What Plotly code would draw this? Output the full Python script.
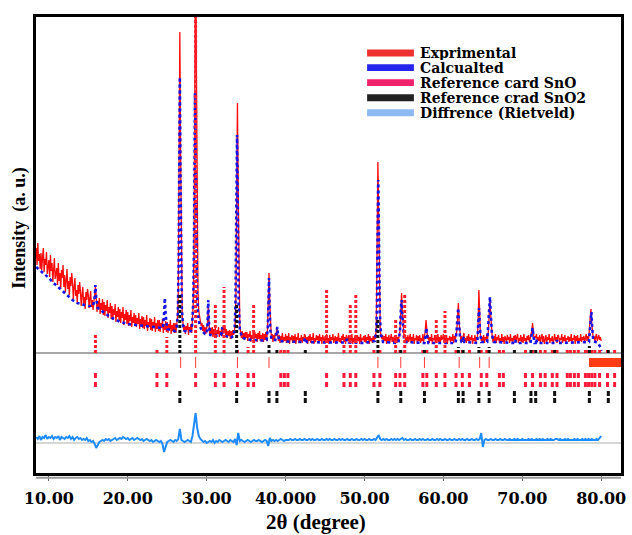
import numpy as np
import plotly.graph_objects as go

# ---------------- data (a.u. above the zero line) ----------------
# Experimental pattern: 2theta 8.4 .. 80.0 deg, step 0.1
exp_start, exp_step = 8.4, 0.1
exp_I = [
    105, 88, 110, 92, 99, 84,                    # 8.4-8.9
    100, 83, 96, 105, 81, 94, 88, 101, 79, 92,   # 9
    93, 76, 98, 82, 90, 71, 86, 95, 74, 84,      # 10
    85, 68, 90, 72, 80, 64, 83, 75, 88, 66,      # 11
    78, 61, 73, 84, 64, 72, 58, 76, 67, 80,      # 12
    70, 54, 66, 75, 57, 63, 50, 68, 59, 71,      # 13
    62, 47, 58, 66, 49, 56, 44, 61, 53, 64,      # 14
    58, 45, 55, 62, 46, 53, 43, 52, 60, 66,      # 15
    57, 41, 52, 44, 55, 39, 50, 43, 54, 38,      # 16
    51, 37, 48, 42, 53, 35, 46, 40, 50, 34,      # 17
    47, 33, 44, 38, 49, 31, 42, 36, 46, 32,      # 18
    44, 30, 41, 35, 46, 28, 39, 33, 43, 29,      # 19
    41, 27, 38, 32, 43, 26, 36, 30, 40, 27,      # 20
    38, 26, 35, 29, 40, 24, 34, 28, 37, 25,      # 21
    36, 24, 33, 27, 38, 22, 31, 26, 35, 23,      # 22
    34, 22, 31, 26, 36, 21, 30, 24, 33, 22,      # 23
    33, 21, 30, 25, 34, 20, 29, 23, 32, 21,      # 24
    31, 20, 29, 24, 33, 19, 28, 22, 30, 20,      # 25
    30, 20, 28, 36, 60, 150, 321, 200, 70, 38,   # 26
    30, 22, 28, 19, 27, 23, 30, 18, 26, 22,      # 27
    29, 20, 34, 50, 110, 260, 420, 280, 120, 60, # 28
    42, 35, 33, 27, 30, 22, 28, 20, 26, 19,      # 29
    25, 28, 45, 28, 17, 25, 19, 26, 16, 24,      # 30
    18, 25, 15, 23, 19, 26, 16, 22, 18, 25,      # 31
    17, 26, 20, 28, 18, 24, 15, 22, 17, 23,      # 32
    14, 22, 16, 23, 18, 21, 28, 55, 150, 250,    # 33
    160, 55, 28, 21, 15, 22, 14, 20, 13, 21,     # 34
    15, 21, 12, 19, 16, 22, 11, 18, 14, 20,      # 35
    13, 21, 15, 19, 11, 20, 14, 22, 12, 18,      # 36
    14, 20, 11, 19, 13, 21, 12, 22, 50, 80,      # 37
    50, 22, 14, 19, 11, 18, 13, 20, 17, 25,      # 38
    19, 12, 18, 10, 17, 13, 20, 11, 16, 12,      # 39
    19, 10, 17, 12, 20, 9, 16, 13, 18, 10,       # 40
    17, 11, 19, 9, 16, 13, 20, 10, 15, 12,       # 41
    18, 10, 16, 13, 19, 17, 11, 16, 9, 17,       # 42
    12, 19, 10, 16, 13, 20, 9, 15, 11, 18,       # 43
    13, 17, 10, 19, 12, 16, 9, 18, 14, 11,       # 44
    17, 10, 19, 12, 15, 9, 18, 11, 16, 13,       # 45
    19, 10, 14, 17, 9, 16, 12, 20, 11, 15,       # 46
    10, 17, 13, 19, 11, 16, 9, 18, 15, 12,       # 47
    18, 10, 16, 12, 19, 9, 15, 11, 17, 13,       # 48
    10, 18, 12, 16, 9, 19, 11, 15, 13, 17,       # 49
    11, 18, 10, 16, 13, 19, 9, 17, 12, 15,       # 50
    10, 17, 12, 18, 14, 28, 90, 191, 140, 50,    # 51
    22, 18, 14, 18, 10, 17, 12, 19, 9, 16,       # 52
    12, 18, 10, 15, 19, 11, 16, 9, 17, 13,       # 53
    18, 10, 16, 12, 17, 22, 40, 60, 42, 22,      # 54
    17, 19, 12, 16, 10, 18, 11, 15, 19, 10,      # 55
    16, 12, 19, 9, 15, 13, 18, 10, 17, 12,       # 56
    18, 10, 15, 12, 19, 11, 16, 22, 33, 22,      # 57
    14, 18, 10, 16, 12, 19, 9, 15, 13, 18,       # 58
    10, 17, 12, 19, 11, 16, 9, 18, 13, 15,       # 59
    19, 10, 16, 12, 18, 9, 15, 13, 17, 11,       # 60
    16, 12, 19, 10, 17, 13, 18, 22, 35, 50,      # 61
    30, 19, 13, 17, 11, 16, 20, 12, 15, 10,      # 62
    17, 12, 19, 10, 16, 13, 18, 9, 15, 12,       # 63
    18, 10, 16, 14, 30, 63, 32, 17, 12, 16,      # 64
    12, 18, 10, 16, 13, 19, 14, 22, 38, 55,      # 65
    38, 22, 15, 11, 17, 12, 19, 10, 16, 13,      # 66
    18, 10, 15, 12, 19, 11, 16, 9, 17, 14,       # 67
    11, 18, 13, 16, 10, 19, 12, 15, 9, 17,       # 68
    13, 18, 11, 16, 19, 10, 15, 12, 18, 11,      # 69
    16, 10, 19, 12, 15, 9, 17, 13, 18, 11,       # 70
    15, 19, 22, 30, 21, 13, 17, 15, 19, 11,      # 71
    16, 12, 18, 10, 15, 19, 11, 17, 9, 14,       # 72
    18, 11, 16, 13, 19, 10, 15, 12, 17, 9,       # 73
    15, 19, 12, 16, 10, 18, 17, 11, 15, 13,      # 74
    19, 10, 16, 12, 18, 9, 15, 13, 17, 11,       # 75
    16, 12, 19, 10, 15, 13, 18, 9, 17, 12,       # 76
    18, 10, 15, 12, 19, 11, 16, 13, 17, 10,      # 77
    15, 19, 12, 17, 14, 22, 32, 44, 30, 18,      # 78
    14, 17, 11, 16, 19, 12, 15, 18, 13, 16,      # 79
    12,                                          # 80.0
]

# Calculated (Rietveld) profile
calc_theta = [8.4, 9.0, 9.6, 10.0, 10.6, 11.0, 11.6, 12.0, 12.6, 13.0, 13.6, 14.0, 14.6, 15.0,
              15.6, 15.8, 15.9, 16.0, 16.2, 16.6, 17.0, 17.6, 18.0, 18.6, 19.0, 19.6, 20.0,
              21.0, 22.0, 23.0, 24.0, 24.45, 24.6, 24.7, 24.8, 25.0, 25.5, 26.0, 26.2, 26.35,
              26.45, 26.53, 26.6, 26.67, 26.75, 26.85, 27.0, 27.2, 27.6, 28.0, 28.15, 28.3,
              28.4, 28.47, 28.52, 28.6, 28.68, 28.78, 28.9, 29.1, 29.4, 29.8, 30.0, 30.1,
              30.2, 30.3, 30.45, 31.0, 31.8, 32.0, 32.2, 33.0, 33.4, 33.55, 33.65, 33.73,
              33.8, 33.85, 33.9, 33.97, 34.05, 34.2, 34.45, 35.0, 36.0, 37.0, 37.6, 37.75,
              37.85, 37.9, 37.95, 38.05, 38.2, 38.7, 38.85, 38.95, 39.05, 39.2, 40.0, 42.3,
              42.5, 42.7, 45.0, 47.6, 47.8, 48.0, 50.0, 51.3, 51.48, 51.58, 51.65, 51.7,
              51.74, 51.79, 51.86, 51.94, 52.1, 52.35, 54.3, 54.5, 54.62, 54.7, 54.78, 54.88,
              55.0, 55.2, 57.6, 57.75, 57.85, 57.95, 58.1, 61.55, 61.7, 61.8, 61.88, 61.97,
              62.1, 62.3, 62.45, 62.55, 62.65, 64.3, 64.42, 64.52, 64.62, 64.8, 65.55, 65.7,
              65.82, 65.9, 66.0, 66.15, 66.4, 69.0, 69.1, 69.2, 71.05, 71.2, 71.3, 71.4,
              71.55, 71.7, 71.78, 71.86, 74.3, 74.4, 74.5, 78.45, 78.6, 78.7, 78.76, 78.86,
              79.0, 79.6, 79.9, 80.0]
calc_I = [86, 82, 78, 75, 70, 67, 63, 60, 56, 53, 50, 49, 48, 47,
          47, 55, 68, 55, 45, 43, 40, 37, 35, 33, 31, 30, 29,
          28, 27, 26, 25, 25, 38, 55, 38, 24, 23, 22, 25, 40,
          90, 190, 276, 190, 90, 45, 28, 22, 21, 22, 28, 50,
          110, 200, 260, 200, 110, 60, 38, 28, 22, 19, 19, 28,
          53, 28, 18, 17, 18, 26, 18, 15, 17, 25, 50, 110,
          180, 218, 180, 110, 50, 24, 16, 13.5, 13, 12.5, 13, 25,
          55, 75, 55, 25, 14, 13, 20, 26, 18, 12, 11.5, 11,
          15, 11, 10.5, 10.5, 14, 10.5, 10, 12, 20, 45, 110, 160,
          173, 150, 90, 40, 18, 11, 10, 22, 45, 53, 40, 22,
          15, 11, 10, 17, 25, 17, 10, 10, 25, 42, 45, 30,
          17, 11, 11, 16, 11, 10, 26, 45, 26, 11, 11, 30,
          52, 56, 40, 18, 11, 10, 13, 10, 10, 18, 25, 18,
          10, 10, 14, 10, 10, 13, 10, 11, 25, 40, 41, 25,
          12, 10, 6, 2]

# Difference curve (exp - calc), 2theta 8.4 .. 80.0, step 0.2
diff_start, diff_step = 8.4, 0.2
diff_I = [
    5, 3, 6, 2, 5, 4, 7, 3, 5, 4,        # 8.4
    6, 3, 5, 4, 6, 2, 5, 4, 3, 5,        # 10.4
    4, 6, 3, 5, 2, 4, 5, 3, 4, 2,        # 12.4
    3, 2, 4, 1, 2, 0, 1, -2, -6, -3,     # 14.4
    0, 1, 2, 1, 3, 2, 3, 1, 2, 3,        # 16.4
    4, 2, 3, 4, 3, 5, 4, 3, 4, 2,        # 18.4
    3, 4, 2, 3, 4, 3, 2, 3, 1, 2,        # 20.4
    3, 2, 1, 2, 0, 1, 2, 1, 0, 1,        # 22.4
    -2, -10, -4, 0, 1, 2, 1, 0, 2, 1,    # 24.4
    3, 13, 2, 1, 0, 1, 2, 1, 0, 6,       # 26.4
    18, 29, 14, 6, 3, 1, 0, 1, -1, 0,    # 28.4
    1, 0, 2, -1, 1, 0, 2, 1, 0, 1,       # 30.4
    2, 1, 0, 2, 1, 0, 3, -3, 9, 1,       # 32.4
    2, 1, 0, 1, 2, 1, 0, 1, 2, 1,        # 34.4
    1, 2, 1, 0, 1, 2, 1, -4, 4, 1,       # 36.4
    2, 1, 2, 1, 2, 3, 2, 1, 2, 2,        # 38.4
    2, 3, 2, 2, 3, 2, 2, 3, 2, 2,        # 40.4
    3, 2, 2, 3, 2, 3, 2, 2, 3, 2,        # 42.4
    2, 3, 2, 2, 3, 2, 3, 2, 2, 3,        # 44.4
    2, 2, 3, 2, 3, 2, 2, 3, 2, 2,        # 46.4
    3, 2, 2, 3, 2, 2, 3, 2, 3, 2,        # 48.4
    2, 3, 2, 2, 3, 2, 4, 7, 3, 2,        # 50.4
    3, 2, 3, 2, 2, 3, 2, 3, 2, 3,        # 52.4
    2, 3, 4, 2, 3, 2, 2, 3, 2, 2,        # 54.4
    3, 2, 2, 3, 2, 3, 2, 2, 3, 2,        # 56.4
    2, 3, 2, 2, 3, 2, 3, 2, 2, 3,        # 58.4
    2, 2, 3, 2, 2, 3, 2, 2, 3, 2,        # 60.4
    3, 2, 2, 3, 2, 2, 3, 2, 2, 3,        # 62.4
    2, 3, 9, -5, 2, 3, 2, 2, 3, 2,       # 64.4
    2, 3, 2, 2, 3, 2, 2, 3, 2, 2,        # 66.4
    3, 2, 2, 3, 2, 3, 2, 2, 3, 2,        # 68.4
    2, 2, 3, 2, 3, 2, 2, 3, 2, 3,        # 70.4
    2, 3, 2, 2, 3, 2, 3, 2, 2, 3,        # 72.4
    3, 2, 3, 2, 2, 3, 2, 3, 2, 2,        # 74.4
    2, 3, 2, 3, 2, 2, 3, 2, 3, 2,        # 76.4
    3, 2, 3, 2, 2, 3, 2, 4, 6,           # 78.4
]

# Reference card SnO: positions and stick heights
sno_pos = [15.9, 23.7, 24.95, 28.6, 31.1, 32.2, 33.9, 35.25, 35.95, 39.4, 39.85, 40.3, 45.2,
           47.4, 48.2, 48.9, 51.2, 51.95, 53.95, 54.5, 55.1, 57.4, 57.9, 59.1, 60.2, 61.6,
           62.4, 63.3, 64.8, 65.5, 67.1, 67.6, 70.4, 71.3, 72.3, 72.9, 73.8, 74.4, 75.7,
           76.1, 76.6, 77.1, 78.0, 78.4, 78.8, 79.2, 79.8, 80.8, 81.7]
sno_h = [18, 3, 16, 400, 50, 66, 4, 6, 50, 5, 5, 5, 63,
         8, 48, 58, 5, 5, 35, 5, 58, 5, 5, 33, 42, 5,
         4, 4, 5, 4, 4, 4, 4, 4, 4, 4, 4, 4, 4,
         4, 4, 4, 4, 4, 4, 4, 4, 3, 3]

# Reference card SnO2: positions and stick heights
sno2_pos = [26.6, 33.8, 37.9, 38.9, 42.5, 51.7, 54.6, 57.6, 61.9, 62.5, 64.5, 65.8, 69.0,
            71.1, 71.7, 74.1, 78.5, 80.9]
sno2_h = [58, 48, 10, 4, 3, 33, 5, 5, 6, 3, 6, 6, 3, 4, 3, 3, 7, 4]

# Fitted reflection markers (thin red) and the dense marker band at high angle
fit_pos = [26.7, 28.6, 33.9, 37.9, 51.7, 54.6, 57.6, 62.0, 64.6, 65.8]
dense_band = [78.5, 82.6]

tick_vals = [10, 20, 30, 40, 50, 60, 70, 80]
tick_text = ["10.00", "20.00", "30.00", "40.000", "50.00", "60.00", "70.00", "80.00"]

legend_names = ["Exprimental", "Calcualted", "Reference card SnO",
                "Reference crad SnO2", "Diffrence (Rietveld)"]
legend_colors = ["#ee3030", "#2424ee", "#f0226c", "#222222", "#8db9f3"]

# ---------------- helpers ----------------
exp_theta = np.round(exp_start + exp_step * np.arange(len(exp_I)), 3)
diff_theta = np.round(diff_start + diff_step * np.arange(len(diff_I)), 3)
DIFF_OFFSET = -89


def sticks(pos, y0, y1):
    xs, ys = [], []
    for i, p in enumerate(pos):
        a = y0 if np.isscalar(y0) else y0[i]
        b = y1 if np.isscalar(y1) else y1[i]
        xs += [p, p, None]
        ys += [a, b, None]
    return xs, ys


fig = go.Figure()

# experimental
fig.add_trace(go.Scatter(x=exp_theta, y=exp_I, mode="lines",
                         line=dict(color="#ff0a0a", width=1.3), hoverinfo="skip"))
# calculated
fig.add_trace(go.Scatter(x=calc_theta, y=calc_I, mode="lines",
                         line=dict(color="#1414e8", width=2.6, dash="dot"), hoverinfo="skip"))
# difference
fig.add_trace(go.Scatter(x=diff_theta, y=np.array(diff_I) + DIFF_OFFSET, mode="lines",
                         line=dict(color="#1e8cff", width=2), hoverinfo="skip"))

# SnO reference sticks above the zero line
x, y = sticks(sno_pos, 0, sno_h)
fig.add_trace(go.Scatter(x=x, y=y, mode="lines",
                         line=dict(color="#ff1e2e", width=3, dash="3px,2px"), hoverinfo="skip"))
# SnO2 reference sticks above the zero line
x, y = sticks(sno2_pos, 0, sno2_h)
fig.add_trace(go.Scatter(x=x, y=y, mode="lines",
                         line=dict(color="#111111", width=3, dash="3px,2px"), hoverinfo="skip"))

# thin fitted reflection markers
x, y = sticks(fit_pos, -4, -15)
fig.add_trace(go.Scatter(x=x, y=y, mode="lines",
                         line=dict(color="#ff3a3a", width=1), hoverinfo="skip"))
fig.add_trace(go.Bar(x=[(dense_band[0] + dense_band[1]) / 2], y=[-9],
                     width=[dense_band[1] - dense_band[0]], base=[-5],
                     marker=dict(color="#ff3c16", line=dict(width=0)), hoverinfo="skip"))

# SnO marker row
x, y = sticks(sno_pos, -20, -34)
fig.add_trace(go.Scatter(x=x, y=y, mode="lines",
                         line=dict(color="#ff1a3c", width=3, dash="5px,4px"), hoverinfo="skip"))
# SnO2 marker row
x, y = sticks(sno2_pos, -38, -51)
fig.add_trace(go.Scatter(x=x, y=y, mode="lines",
                         line=dict(color="#111111", width=3, dash="5px,2px"), hoverinfo="skip"))

shapes = [
    dict(type="line", xref="paper", yref="y", x0=0, x1=1, y0=0, y1=0,
         line=dict(color="#8a8a8a", width=1.3), layer="below"),
    dict(type="line", xref="paper", yref="y", x0=0, x1=1, y0=DIFF_OFFSET - 1, y1=DIFF_OFFSET - 1,
         line=dict(color="#b0b0b0", width=1.2), layer="below"),
    # grey shadow under the bottom frame
    dict(type="line", xref="paper", yref="paper", x0=0, x1=1, y0=-0.0105, y1=-0.0105,
         line=dict(color="#9a9a9a", width=2)),
]

# custom legend (top-right)
annotations = []
row_y = [0.921, 0.889, 0.856, 0.823, 0.790]
for name, col, yy in zip(legend_names, legend_colors, row_y):
    shapes.append(dict(type="rect", xref="paper", yref="paper",
                       x0=0.566, x1=0.646, y0=yy - 0.0075, y1=yy + 0.0075,
                       fillcolor=col, line=dict(width=0)))
    annotations.append(dict(xref="paper", yref="paper", x=0.654, y=yy, xanchor="left",
                            yanchor="middle", showarrow=False, text="<b>%s</b>" % name,
                            height=14, borderpad=0,
                            font=dict(family="DejaVu Serif", size=14, color="black")))

annotations.append(dict(xref="paper", yref="paper", x=0.478, y=-0.108, xanchor="center",
                        yanchor="middle", showarrow=False, text="<b>2θ (degree)</b>",
                        font=dict(family="Liberation Serif", size=21, color="black")))
annotations.append(dict(xref="paper", yref="paper", x=-0.028, y=0.537, xanchor="center",
                        yanchor="middle", showarrow=False, textangle=-90,
                        text="<b>Intensity  (a. u.)</b>",
                        font=dict(family="Liberation Serif", size=18, color="black")))

fig.update_layout(
    width=632, height=535,
    margin=dict(l=36, r=6, t=17, b=62),
    paper_bgcolor="white", plot_bgcolor="white",
    showlegend=False, bargap=0,
    shapes=shapes, annotations=annotations,
    xaxis=dict(range=[8.37, 82.51], tickvals=tick_vals,
               ticktext=["<b>%s</b>" % t for t in tick_text],
               tickfont=dict(family="DejaVu Serif", size=16, color="black"),
               ticks="outside", ticklen=5, tickcolor="#666", tickwidth=1,
               ticklabelstandoff=4,
               showgrid=False, zeroline=False,
               showline=True, linecolor="black", linewidth=3, mirror=True),
    yaxis=dict(range=[-120, 336], showticklabels=False, ticks="",
               showgrid=False, zeroline=False,
               showline=True, linecolor="black", linewidth=3, mirror=True),
)

fig.write_html("out.html")
